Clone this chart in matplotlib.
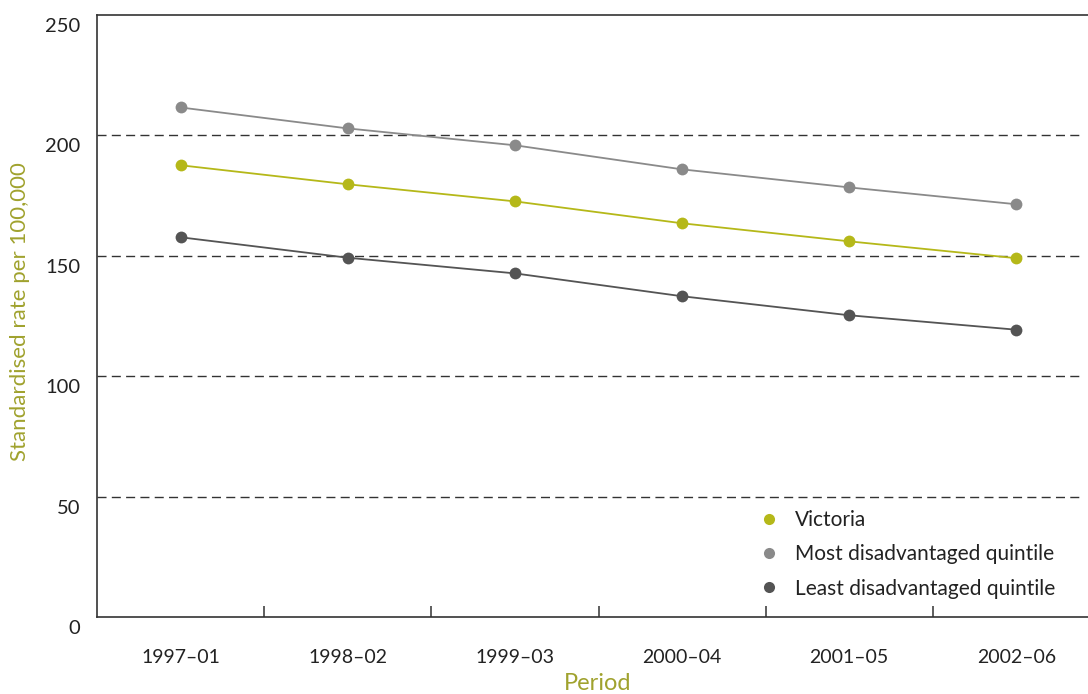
import matplotlib
matplotlib.use("Agg")
import matplotlib.pyplot as plt
from matplotlib.transforms import ScaledTranslation

periods = ["1997\u201301", "1998\u201302", "1999\u201303", "2000\u201304", "2001\u201305", "2002\u201306"]
victoria = [187.6, 179.7, 172.6, 163.5, 156.0, 149.0]
most_disadv = [211.6, 202.9, 195.9, 185.9, 178.4, 171.4]
least_disadv = [157.7, 149.2, 142.7, 133.2, 125.3, 119.3]
yticks = [0, 50, 100, 150, 200, 250]

plt.rcParams['font.family'] = ['Lato', 'DejaVu Sans']

W, H = 1088, 694
fig = plt.figure(figsize=(W / 100, H / 100), dpi=100)
left, right, top, bottom = 97, 1100, 15, 617
ax = fig.add_axes([left / W, 1 - bottom / H, (right - left) / W, (bottom - top) / H])

x = list(range(len(periods)))
series = [
    ("Victoria", victoria, "#b5b819"),
    ("Most disadvantaged quintile", most_disadv, "#8a8a8a"),
    ("Least disadvantaged quintile", least_disadv, "#545454"),
]
for name, vals, c in series:
    ax.plot(x, vals, color=c, lw=1.3, marker='o', markersize=8.5,
            markeredgewidth=0, label=name, zorder=3)

for yv in yticks[1:-1]:
    ax.axhline(yv, xmin=0, xmax=0.982, color="#333333", lw=1.0,
               dashes=(6.5, 3.8), zorder=1)

ax.set_xlim(-0.5, 5.5)
ax.set_ylim(0, 250)
ax.set_yticks(yticks)
ax.set_yticklabels([str(v) for v in yticks], fontsize=14.5, color="#222222")
ax.tick_params(axis='y', length=0, pad=12)
off = ScaledTranslation(0, -0.10, fig.dpi_scale_trans)
for lab in ax.get_yticklabels():
    lab.set_transform(lab.get_transform() + off)

ax.set_xticks(x)
ax.set_xticklabels(periods, fontsize=14, color="#222222")
ax.tick_params(axis='x', which='major', length=0, pad=23)
ax.set_xticks([i + 0.5 for i in x[:-1]], minor=True)
ax.tick_params(axis='x', which='minor', direction='in', length=8, width=1.1, color="#333333")

for s in ['top', 'left', 'bottom']:
    ax.spines[s].set_color("#333333")
    ax.spines[s].set_linewidth(1.2)
ax.spines['right'].set_visible(False)

olive = "#a0a22e"
fig.text(20 / W, 1 - 312 / H, "Standardised rate per 100,000", rotation=90,
         ha='center', va='center', fontsize=16, color=olive)
fig.text(598 / W, 1 - 684 / H, "Period", ha='center', va='center', fontsize=17, color=olive)

leg = ax.legend(loc='upper left', bbox_to_anchor=((751 - left) / (right - left), (617 - 502) / (bottom - top)),
                frameon=False, fontsize=15, handlelength=0.9, handletextpad=0.8,
                labelspacing=0.68, borderaxespad=0)
for h in leg.legend_handles:
    h.set_linestyle('None')
    h.set_markersize(8)
for t in leg.get_texts():
    t.set_color("#222222")

fig.savefig("out.png", dpi=100)
